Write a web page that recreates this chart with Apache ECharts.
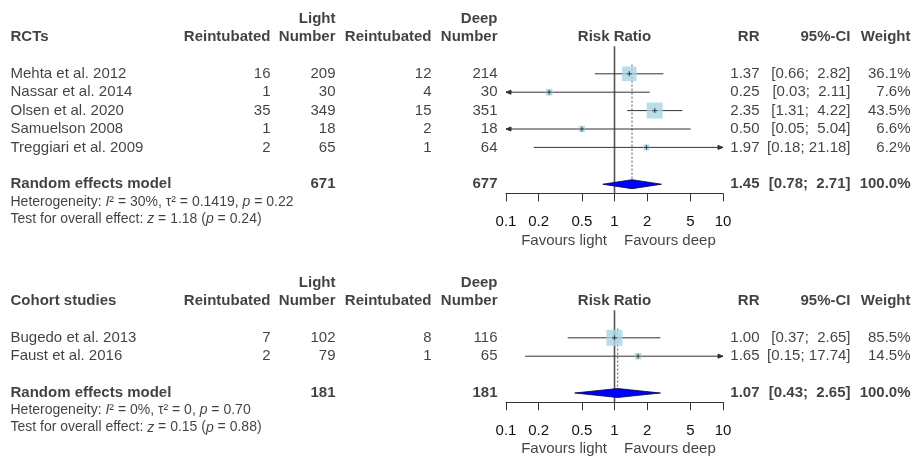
<!DOCTYPE html>
<html><head><meta charset="utf-8">
<script src="https://cdn.jsdelivr.net/npm/echarts@6/dist/echarts.min.js"></script>
<style>html,body{margin:0;padding:0;background:#fff}#c{width:914px;height:457px}</style>
</head><body><div id="c"></div>
<script>
// ---------- DATA ----------
// RCTs
const rctTitle = 'RCTs';
const rctStudies = ['Mehta et al. 2012', 'Nassar et al. 2014', 'Olsen et al. 2020', 'Samuelson 2008', 'Treggiari et al. 2009'];
const rctLightEvents = [16, 1, 35, 1, 2];
const rctLightTotal = [209, 30, 349, 18, 65];
const rctDeepEvents = [12, 4, 15, 2, 1];
const rctDeepTotal = [214, 30, 351, 18, 64];
const rctRR = [1.37, 0.25, 2.35, 0.50, 1.97];
const rctLower = [0.66, 0.03, 1.31, 0.05, 0.18];
const rctUpper = [2.82, 2.11, 4.22, 5.04, 21.18];
const rctWeight = [36.1, 7.6, 43.5, 6.6, 6.2];
const rctTotals = [671, 677];
const rctPooled = [1.45, 0.78, 2.71];      // RR, lower, upper
const rctHet = ['30%', '0.1419', '0.22'];  // I2, tau2, p
const rctTest = ['1.18', '0.24'];          // z, p

// Cohort studies
const cohTitle = 'Cohort studies';
const cohStudies = ['Bugedo et al. 2013', 'Faust et al. 2016'];
const cohLightEvents = [7, 2];
const cohLightTotal = [102, 79];
const cohDeepEvents = [8, 1];
const cohDeepTotal = [116, 65];
const cohRR = [1.00, 1.65];
const cohLower = [0.37, 0.15];
const cohUpper = [2.65, 17.74];
const cohWeight = [85.5, 14.5];
const cohTotals = [181, 181];
const cohPooled = [1.07, 0.43, 2.65];
const cohHet = ['0%', '0', '0.70'];
const cohTest = ['0.15', '0.88'];

// Axis ticks / headers
const tickValues = [0.1, 0.2, 0.5, 1, 2, 5, 10];
const headerTop = ['Light', 'Deep'];
const headerCols = ['Reintubated', 'Number', 'Reintubated', 'Number', 'RR', '95%-CI', 'Weight'];
const favourLabels = ['Favours light', 'Favours deep'];
const forestTitle = 'Risk Ratio';
const pooledLabel = 'Random effects model';

// ---------- LAYOUT ----------
const W = 914, ROW = 18.4;
const FONT = '"Liberation Sans", Arial, Helvetica, sans-serif';
const COL = { name: 10, ev1: 271, n1: 336, ev2: 432, n2: 498, rr: 760, ci: 851, w: 911 };
const FOREST = { left: 506, width: 217 };
const X_MIN = 0.1, X_MAX = 10;
const SQ_MAX = 16;

const panels = [
  { y0: 37, title: rctTitle, studies: rctStudies, e1: rctLightEvents, n1: rctLightTotal, e2: rctDeepEvents, n2: rctDeepTotal,
    rr: rctRR, lo: rctLower, hi: rctUpper, w: rctWeight, tot: rctTotals, pooled: rctPooled, het: rctHet, test: rctTest },
  { y0: 301, title: cohTitle, studies: cohStudies, e1: cohLightEvents, n1: cohLightTotal, e2: cohDeepEvents, n2: cohDeepTotal,
    rr: cohRR, lo: cohLower, hi: cohUpper, w: cohWeight, tot: cohTotals, pooled: cohPooled, het: cohHet, test: cohTest }
];

const grid = [], xAxis = [], yAxis = [], series = [];

function item(x, row, text, align, extra) {
  const lab = Object.assign({
    show: true, formatter: text, fontFamily: FONT, fontSize: 15, color: '#111',
    position: align === 'left' ? 'right' : (align === 'right' ? 'left' : 'inside'), distance: 0
  }, extra || {});
  return { value: [x, row], label: lab };
}

panels.forEach((p, k) => {
  const n = p.studies.length;
  const randRow = n + 3;
  const axisRow = randRow + 0.5;
  const gT = 2 * k, gF = 2 * k + 1;

  grid.push({ left: 0, width: W, top: p.y0 - 2 * ROW, height: (axisRow + 5) * ROW });
  grid.push({ left: FOREST.left, width: FOREST.width, top: p.y0 - ROW, height: (axisRow + 1) * ROW });

  xAxis.push({ gridIndex: gT, type: 'value', min: 0, max: W, show: false });
  yAxis.push({ gridIndex: gT, type: 'value', min: -2, max: axisRow + 3, inverse: true, show: false });
  xAxis.push({
    gridIndex: gF, type: 'log', logBase: 10, min: X_MIN, max: X_MAX, position: 'bottom',
    axisLine: { show: true, onZero: false, lineStyle: { color: '#333', width: 1 } },
    axisTick: { show: true, length: 8, customValues: tickValues, lineStyle: { color: '#333', width: 1 } },
    axisLabel: { show: true, customValues: tickValues, margin: 21, fontSize: 15, fontFamily: FONT, color: '#111',
      formatter: v => String(+(+v).toPrecision(3)) },
    minorTick: { show: false }, splitLine: { show: false }
  });
  yAxis.push({ gridIndex: gF, type: 'value', min: -1, max: axisRow, inverse: true, show: false });

  // ---- text table ----
  const width = Math.max(...p.hi.concat([p.pooled[2]]).map(v => v.toFixed(2).length));
  const lwidth = Math.max(...p.lo.concat([p.pooled[1]]).map(v => v.toFixed(2).length));
  const ci = (l, h) => '[' + l.toFixed(2).padStart(lwidth) + '; ' + h.toFixed(2).padStart(width) + ']';
  const B = { fontWeight: 'bold' };
  const t = [];
  t.push(item(COL.n1, -1, headerTop[0], 'right', B));
  t.push(item(COL.n2, -1, headerTop[1], 'right', B));
  t.push(item(COL.name, 0, p.title, 'left', B));
  [COL.ev1, COL.n1, COL.ev2, COL.n2, COL.rr, COL.ci, COL.w].forEach((x, i) => t.push(item(x, 0, headerCols[i], 'right', B)));
  p.studies.forEach((s, i) => {
    const r = 2 + i;
    t.push(item(COL.name, r, s, 'left'));
    t.push(item(COL.ev1, r, String(p.e1[i]), 'right'));
    t.push(item(COL.n1, r, String(p.n1[i]), 'right'));
    t.push(item(COL.ev2, r, String(p.e2[i]), 'right'));
    t.push(item(COL.n2, r, String(p.n2[i]), 'right'));
    t.push(item(COL.rr, r, p.rr[i].toFixed(2), 'right'));
    t.push(item(COL.ci, r, ci(p.lo[i], p.hi[i]), 'right'));
    t.push(item(COL.w, r, p.w[i].toFixed(1) + '%', 'right'));
  });
  t.push(item(COL.name, randRow, pooledLabel, 'left', B));
  t.push(item(COL.n1, randRow, String(p.tot[0]), 'right', B));
  t.push(item(COL.n2, randRow, String(p.tot[1]), 'right', B));
  t.push(item(COL.rr, randRow, p.pooled[0].toFixed(2), 'right', B));
  t.push(item(COL.ci, randRow, ci(p.pooled[1], p.pooled[2]), 'right', B));
  t.push(item(COL.w, randRow, (100).toFixed(1) + '%', 'right', B));
  const rich = { i: { fontStyle: 'italic', fontSize: 14, fontFamily: FONT, color: '#111' } };
  t.push(item(COL.name, randRow + 0.97,
    'Heterogeneity: {i|I}\u00B2 = ' + p.het[0] + ', \u03C4\u00B2 = ' + p.het[1] + ', {i|p} = ' + p.het[2],
    'left', { fontSize: 14, rich }));
  t.push(item(COL.name, randRow + 1.9,
    'Test for overall effect: {i|z} = ' + p.test[0] + ' ({i|p} = ' + p.test[1] + ')',
    'left', { fontSize: 14, rich }));

  series.push({
    type: 'scatter', xAxisIndex: gT, yAxisIndex: gT, symbolSize: 1, silent: true, clip: false,
    itemStyle: { color: 'rgba(0,0,0,0)' }, data: t, z: 5
  });

  // ---- forest ----
  series.push({
    type: 'line', xAxisIndex: gF, yAxisIndex: gF, symbol: 'none', silent: true, z: 1,
    lineStyle: { color: '#555', width: 1.6 }, data: [[1, 0.5], [1, axisRow]]
  });
  series.push({
    type: 'line', xAxisIndex: gF, yAxisIndex: gF, symbol: 'none', silent: true, z: 1,
    lineStyle: { color: '#555', width: 1, type: [2, 2] }, data: [[p.pooled[0], 1.5], [p.pooled[0], randRow]]
  });
  series.push({
    type: 'custom', xAxisIndex: gF, yAxisIndex: gF, coordinateSystem: 'cartesian2d', silent: true, z: 2,
    data: p.rr.map((v, i) => [p.lo[i], p.hi[i], 2 + i]),
    encode: { x: [0, 1], y: 2 },
    renderItem: (params, api) => {
      const lo = api.value(0), hi = api.value(1), row = api.value(2);
      const a = api.coord([Math.max(lo, X_MIN), row]);
      const b = api.coord([Math.min(hi, X_MAX), row]);
      const st = { stroke: '#333', lineWidth: 1, fill: null };
      const ah = { stroke: '#333', lineWidth: 1, fill: '#333' };
      const ch = [{ type: 'line', shape: { x1: a[0], y1: a[1], x2: b[0], y2: b[1] }, style: st }];
      if (lo < X_MIN) ch.push({ type: 'polygon', shape: { points: [[a[0] + 5, a[1] - 2], [a[0], a[1]], [a[0] + 5, a[1] + 2]] }, style: ah });
      if (hi > X_MAX) ch.push({ type: 'polygon', shape: { points: [[b[0] - 5, b[1] - 2], [b[0], b[1]], [b[0] - 5, b[1] + 2]] }, style: ah });
      return { type: 'group', children: ch };
    }
  });
  const maxW = Math.max(...p.w);
  series.push({
    type: 'scatter', xAxisIndex: gF, yAxisIndex: gF, symbol: 'rect', silent: true, z: 3,
    itemStyle: { color: '#a8d6e6' },
    data: p.rr.map((v, i) => ({ value: [v, 2 + i], symbolSize: SQ_MAX * Math.sqrt(p.w[i] / maxW) }))
  });
  series.push({
    type: 'scatter', xAxisIndex: gF, yAxisIndex: gF, symbol: 'rect', silent: true, z: 4,
    itemStyle: { color: '#333' }, symbolSize: [1.2, 5],
    data: p.rr.map((v, i) => [v, 2 + i])
  });
  series.push({
    type: 'scatter', xAxisIndex: gF, yAxisIndex: gF, symbol: 'rect', silent: true, z: 4,
    itemStyle: { color: '#333' }, symbolSize: [5, 1.2],
    data: p.rr.map((v, i) => [v, 2 + i])
  });
  series.push({
    type: 'custom', xAxisIndex: gF, yAxisIndex: gF, coordinateSystem: 'cartesian2d', silent: true, z: 4,
    data: [[p.pooled[1], p.pooled[2], p.pooled[0], randRow]],
    encode: { x: [0, 1, 2], y: 3 },
    renderItem: (params, api) => {
      const row = api.value(3);
      const l = api.coord([api.value(0), row]), r = api.coord([api.value(1), row]), c = api.coord([api.value(2), row]);
      return { type: 'polygon', shape: { points: [l, [c[0], c[1] - 4.5], r, [c[0], c[1] + 4.5]] },
        style: { fill: '#0000ff', stroke: '#000040', lineWidth: 0.8 } };
    }
  });
  series.push({
    type: 'scatter', xAxisIndex: gF, yAxisIndex: gF, symbolSize: 1, silent: true, clip: false, z: 5,
    itemStyle: { color: 'rgba(0,0,0,0)' },
    data: [
      item(1, 0, forestTitle, 'center', { fontWeight: 'bold' }),
      item(1, axisRow + 47 / ROW, favourLabels[0], 'right', { distance: 7 }),
      item(1, axisRow + 47 / ROW, favourLabels[1], 'left', { distance: 9 })
    ]
  });
});

const chart = echarts.init(document.getElementById('c'), null, { renderer: 'canvas' });
chart.setOption({ animation: false, backgroundColor: '#fff', grid, xAxis, yAxis, series });
</script></body></html>
